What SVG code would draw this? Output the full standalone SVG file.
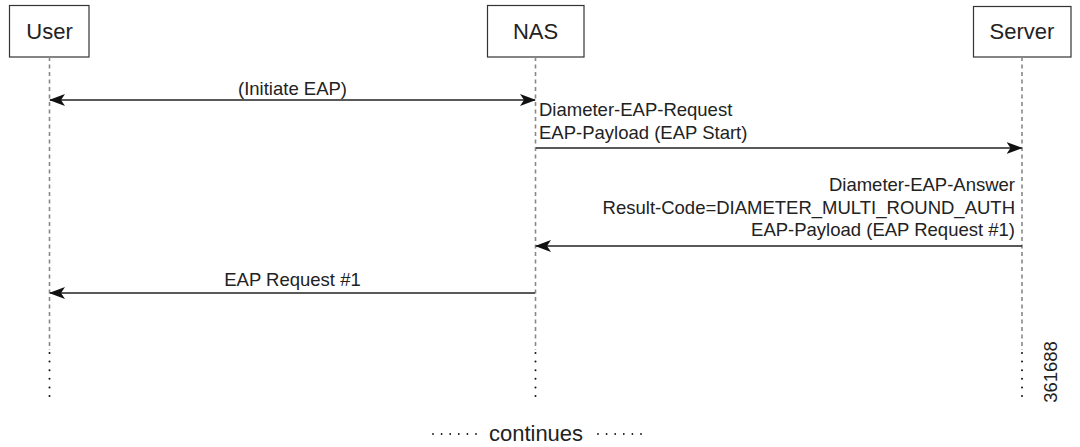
<svg xmlns="http://www.w3.org/2000/svg" width="1080" height="447" viewBox="0 0 1080 447">
<style>
.box{fill:#fff;stroke:#333;stroke-width:1.2}
.lbl{font-family:"Liberation Sans",Arial,sans-serif;font-size:22px;fill:#222;text-anchor:middle}
.life{stroke:#888;stroke-width:1.6;stroke-dasharray:4 3.5;fill:none}
.dots{stroke:#111;stroke-width:2;stroke-dasharray:0 8.6;stroke-linecap:round;fill:none}
.msg{stroke:#222;stroke-width:1.3;fill:none}
.t{font-family:"Liberation Sans",Arial,sans-serif;font-size:18.5px;fill:#222}
</style>
<defs>
<marker id="ah" viewBox="0 0 16 12" refX="15" refY="6" markerWidth="16" markerHeight="12" markerUnits="userSpaceOnUse" orient="auto-start-reverse">
<path d="M0,0 L16,6 L0,12 L4,6 Z" fill="#111"/>
</marker>
</defs>
<rect width="1080" height="447" fill="#fff"/>
<g id="user">
<rect class="box" x="9.5" y="5.5" width="79.5" height="51.5"/>
<text class="lbl" x="49.5" y="39">User</text>
<line class="life" x1="49.5" y1="57" x2="49.5" y2="350"/>
<line class="dots" x1="49.5" y1="353" x2="49.5" y2="397"/>
</g>
<g id="nas">
<rect class="box" x="487.5" y="5.5" width="96.5" height="51.5"/>
<text class="lbl" x="535.5" y="39">NAS</text>
<line class="life" x1="535.5" y1="57" x2="535.5" y2="350"/>
<line class="dots" x1="535.5" y1="353" x2="535.5" y2="397"/>
</g>
<g id="server">
<rect class="box" x="973.5" y="6.5" width="97.5" height="50.5"/>
<text class="lbl" x="1022" y="39">Server</text>
<line class="life" x1="1022" y1="57" x2="1022" y2="350"/>
<line class="dots" x1="1022" y1="353" x2="1022" y2="397"/>
</g>
<g id="connectors">
<line class="msg" x1="50" y1="100" x2="535" y2="100" marker-start="url(#ah)" marker-end="url(#ah)"/>
<line class="msg" x1="536" y1="148" x2="1021.5" y2="148" marker-end="url(#ah)"/>
<line class="msg" x1="1022" y1="246" x2="536" y2="246" marker-end="url(#ah)"/>
<line class="msg" x1="535" y1="293" x2="50" y2="293" marker-end="url(#ah)"/>
</g>
<g id="labels">
<text class="t" x="292.5" y="95" text-anchor="middle">(Initiate EAP)</text>
<text class="t" x="539" y="116">Diameter-EAP-Request</text>
<text class="t" x="539" y="139">EAP-Payload (EAP Start)</text>
<text class="t" x="1015" y="191" text-anchor="end">Diameter-EAP-Answer</text>
<text class="t" x="1015" y="214" text-anchor="end">Result-Code=DIAMETER_MULTI_ROUND_AUTH</text>
<text class="t" x="1015" y="236" text-anchor="end">EAP-Payload (EAP Request #1)</text>
<text class="t" x="292.5" y="286" text-anchor="middle">EAP Request #1</text>
<text class="t" x="0" y="0" font-size="16px" text-anchor="middle" transform="translate(1057,372) rotate(-90)">361688</text>
</g>
<g id="continues">
<line class="dots" x1="433" y1="434" x2="477" y2="434" style="stroke-width:1.8"/>
<text x="536" y="441" font-family="Liberation Sans,Arial,sans-serif" font-size="22px" fill="#222" text-anchor="middle">continues</text>
<line class="dots" x1="598" y1="434" x2="642" y2="434" style="stroke-width:1.8"/>
</g>
</svg>
